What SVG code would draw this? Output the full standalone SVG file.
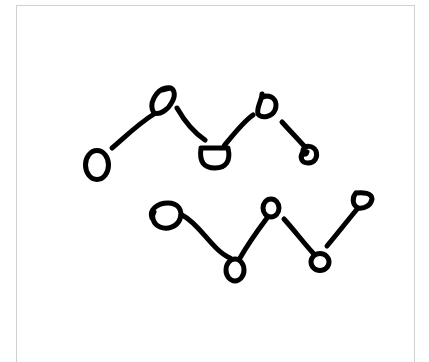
<svg xmlns="http://www.w3.org/2000/svg" width="429" height="362" viewBox="0 0 429 362">
<style>
.s{fill:none;stroke:#000;stroke-width:5;stroke-linecap:round;stroke-linejoin:round}
</style>
<rect x="0" y="0" width="429" height="362" fill="#fff"/>
<rect x="16.5" y="5.5" width="398" height="370" fill="#fff" stroke="#d0d0d0" stroke-width="1"/>
<g id="connectors">
<path class="s" d="M112,148 C125,137 138,124 154,114"/>
<path class="s" d="M177,108 C185,122 193,132 205,140"/>
<path class="s" d="M224,146 C233,135 243,122 253,115"/>
<path class="s" d="M282,122 C290,131 298,139 305,147"/>
<path class="s" d="M182,215 C200,224 212,250 230,258"/>
<path class="s" d="M240,258 C248,244 258,230 267,218"/>
<path class="s" d="M284,219 C294,230 303,242 313,253"/>
<path class="s" d="M327,246 C337,234 348,220 358,208"/>
</g>
<g id="n1"><ellipse class="s" cx="97" cy="165" rx="11.5" ry="14.5"/></g>
<g id="n2"><path class="s" d="M154,113 C148,104 156,90 166,88 C175,86 176,95 172,102 C168,110 160,115 154,113 M162,90 L170,88"/></g>
<g id="n3"><path class="s" d="M201,148 L228,148 C231,161 226,168 215,168 C204,168 199,162 201,148"/></g>
<g id="n4"><path class="s" d="M262,94 C262,100 256,108 258,114 C262,119 272,117 275,110 C278,102 274,96 266,96 C262,97 261,99 262,94"/></g>
<g id="n5"><path class="s" d="M303,152 C299,158 302,163 308,163 C315,163 318,157 316,151 C313,145 305,145 303,150 C302,154 306,156 307,152"/></g>
<g id="nA"><path class="s" d="M152,218 C149,210 157,203 168,203 C178,203 183,210 180,219 C177,227 167,230 160,227 C153,224 151,216 154,212"/></g>
<g id="nB"><ellipse class="s" cx="235" cy="270" rx="9" ry="11"/></g>
<g id="nC"><ellipse class="s" cx="271" cy="208" rx="8" ry="9"/></g>
<g id="nD"><ellipse class="s" cx="320" cy="262" rx="9" ry="8.5"/></g>
<g id="nE"><path class="s" d="M356,193 C363,192 372,193 372,199 C371,205 365,209 358,208 C352,205 352,197 356,193"/></g>
</svg>
